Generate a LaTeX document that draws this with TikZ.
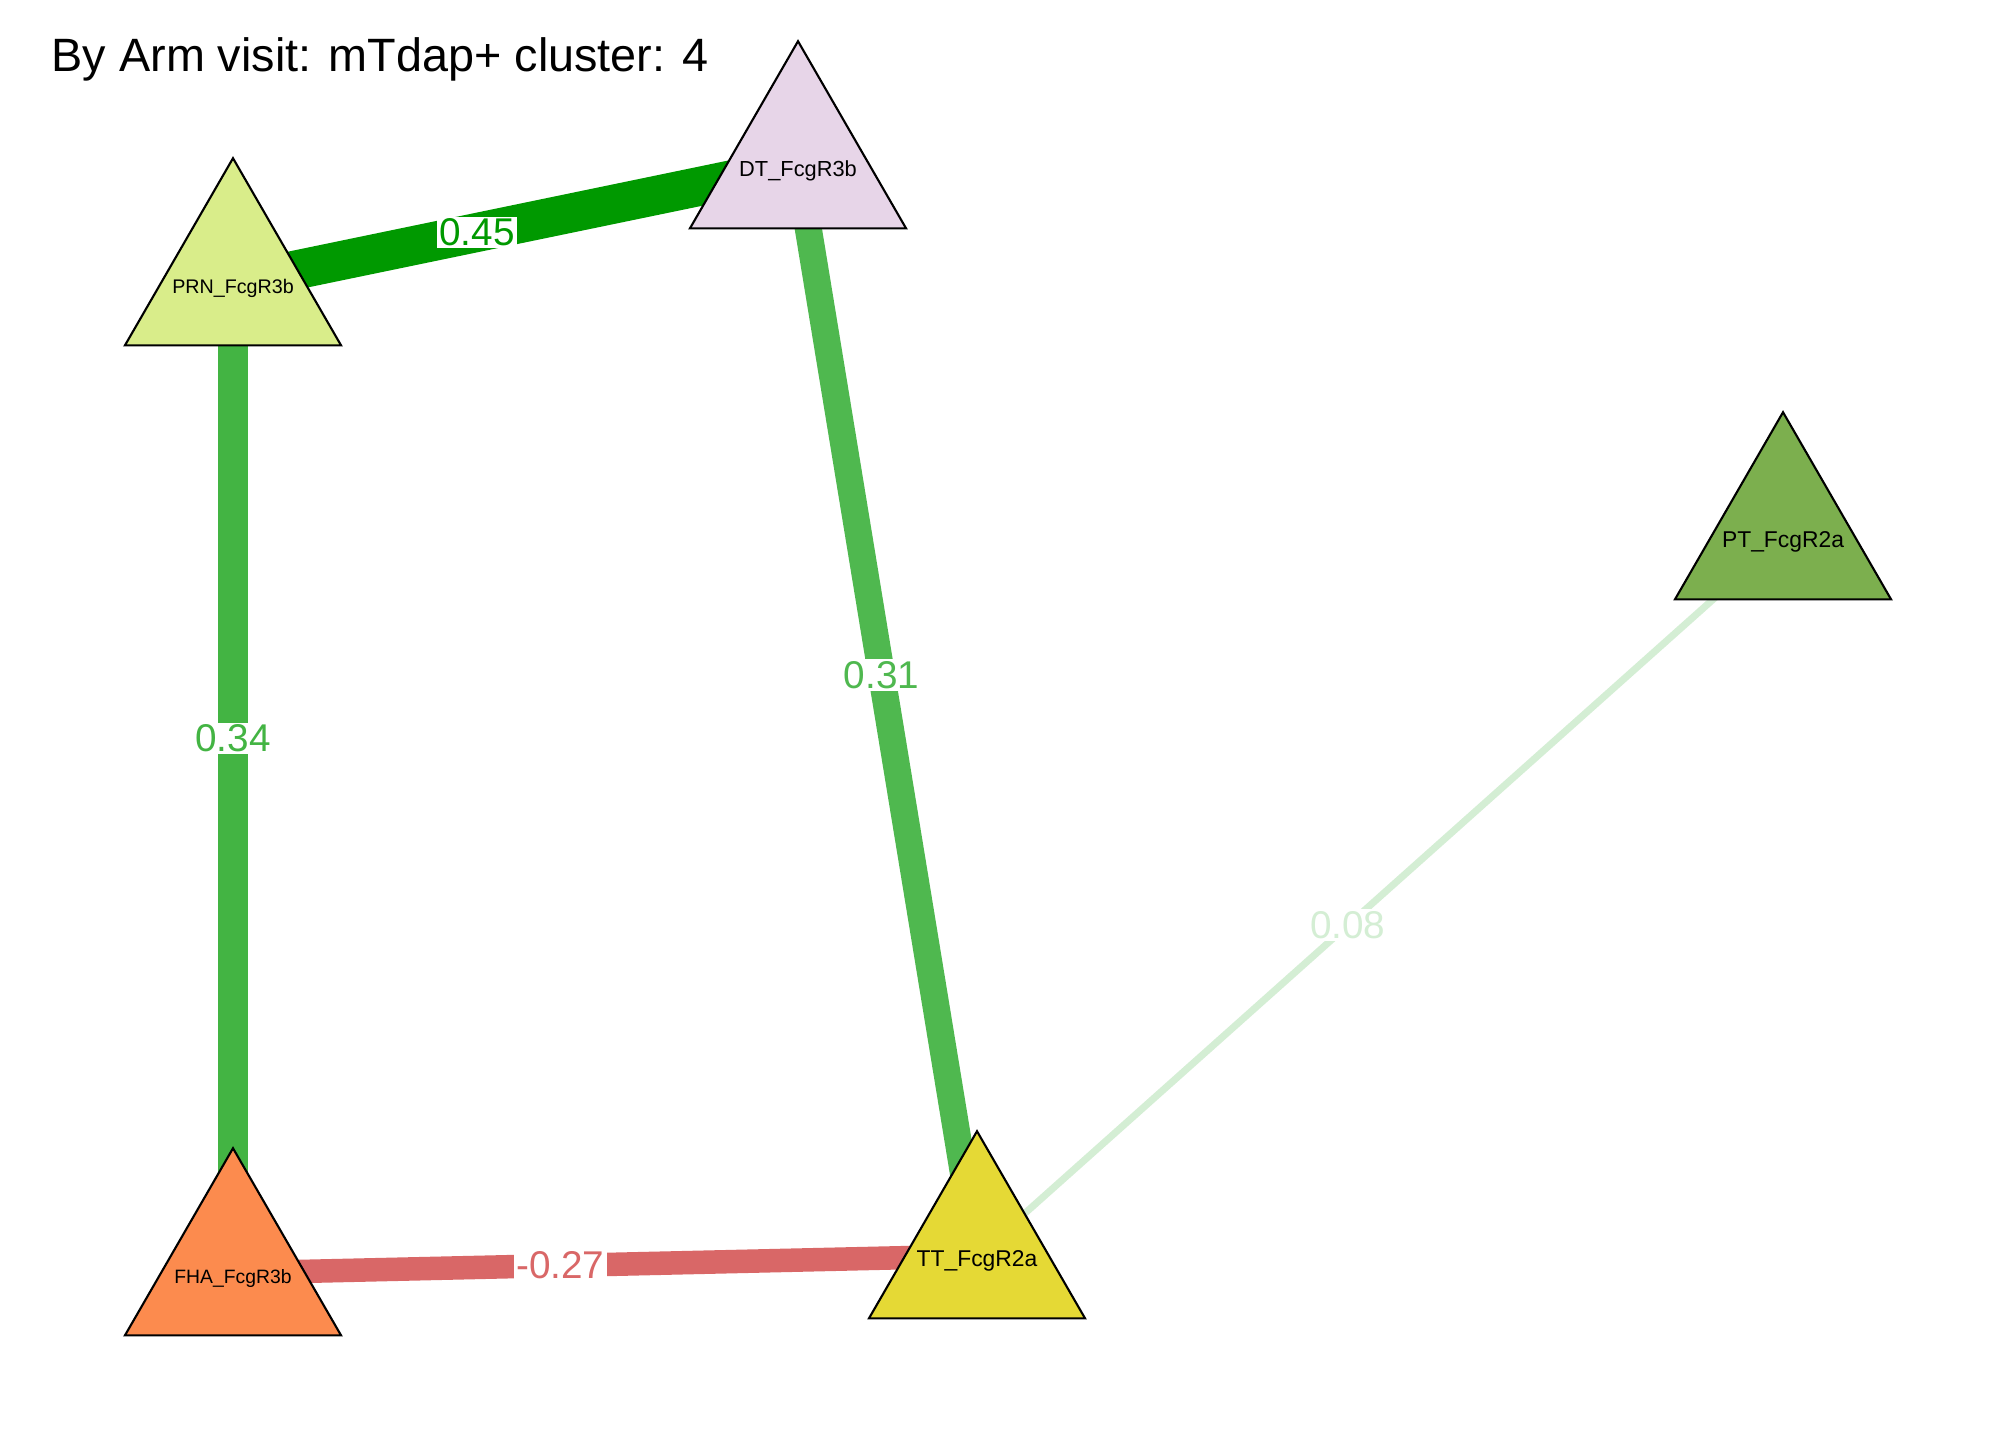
\documentclass[tikz,border=0pt]{standalone}
\usepackage{fontspec}
\setmainfont{Liberation Sans}
\usetikzlibrary{shapes.geometric, positioning}
\pgfdeclarelayer{back}
\pgfdeclarelayer{edges}
\pgfsetlayers{back,edges,main}
\definecolor{prncol}{HTML}{D9ED8A}
\definecolor{dtcol}{HTML}{E7D5E8}
\definecolor{ptcol}{HTML}{7CAF4E}
\definecolor{fhacol}{HTML}{FC8B4E}
\definecolor{ttcol}{HTML}{E5D935}
\definecolor{pos45}{HTML}{009900}
\definecolor{pos34}{HTML}{43B443}
\definecolor{pos31}{HTML}{4FB84F}
\definecolor{pos08}{HTML}{D4EED4}
\definecolor{neg27}{HTML}{D96767}
\newcommand{\vname}[1]{\makebox[0pt]{\raisebox{-3pt}[0pt][0pt]{#1}}}
\tikzset{
	vertex/.style={
		regular polygon, 
		regular polygon sides=3, 
		minimum size=2.494cm, 
		inner sep=0pt, 
		outer sep=0pt, 
		text centered, 
		draw=black, 
		line width=0.6pt, 
		fill=#1
	},
	link/.style 2 args={
		draw=#1, 
		line width=#2, 
		line cap=butt
	},
	elabel/.style={
		fill=white, 
		inner sep=0.6pt, 
		text=#1, 
		font=\fontsize{11pt}{12pt}\selectfont
	}
}

\begin{document}
\begin{tikzpicture}[x=0.01cm, y=-0.01cm]
				\begin{pgfonlayer}{back}
				\fill [white] (0,0) rectangle (2016,1440);
				\end{pgfonlayer}
				\useasboundingbox (0,0) rectangle (2016,1440);
				\node (title) [anchor=base west, inner sep=0pt, font=\fontsize{13.3pt}{16pt}\selectfont] at (51,72) {By Arm visit: mTdap+ cluster: 4};
				
				\node (prn) [vertex=prncol, font=\fontsize{5.6pt}{6pt}\selectfont] at (233,283) {\vname{PRN\_FcgR3b}};
				\node (dt) [vertex=dtcol, font=\fontsize{6.2pt}{7pt}\selectfont] at (798,166) {\vname{DT\_FcgR3b}};
				\node (pt) [vertex=ptcol, font=\fontsize{6.5pt}{7pt}\selectfont] at (1783,537) {\vname{PT\_FcgR2a}};
				\node (fha) [vertex=fhacol, font=\fontsize{5.5pt}{6pt}\selectfont] at (233,1273) {\vname{FHA\_FcgR3b}};
				\node (tt) [vertex=ttcol, font=\fontsize{6.5pt}{7pt}\selectfont] at (977,1256) {\vname{TT\_FcgR2a}};
				
				\begin{pgfonlayer}{edges}
				\draw [link={pos45}{0.39cm}] (prn.center) -- node[elabel=pos45, pos=0.432] {0.45} (dt.center);
				\draw [link={pos34}{0.30cm}] (prn.center) -- node[elabel=pos34, pos=0.46] {0.34} (fha.center);
				\draw [link={pos31}{0.27cm}] (dt.center) -- node[elabel=pos31, pos=0.467] {0.31} (tt.center);
				\draw [link={pos08}{0.07cm}] (tt.center) -- node[elabel=pos08, pos=0.46] {0.08} (pt.center);
				\draw [link={neg27}{0.235cm}] (fha.center) -- node[elabel=neg27, pos=0.44] {-0.27} (tt.center);
				\end{pgfonlayer}
			\end{tikzpicture}
\end{document}
